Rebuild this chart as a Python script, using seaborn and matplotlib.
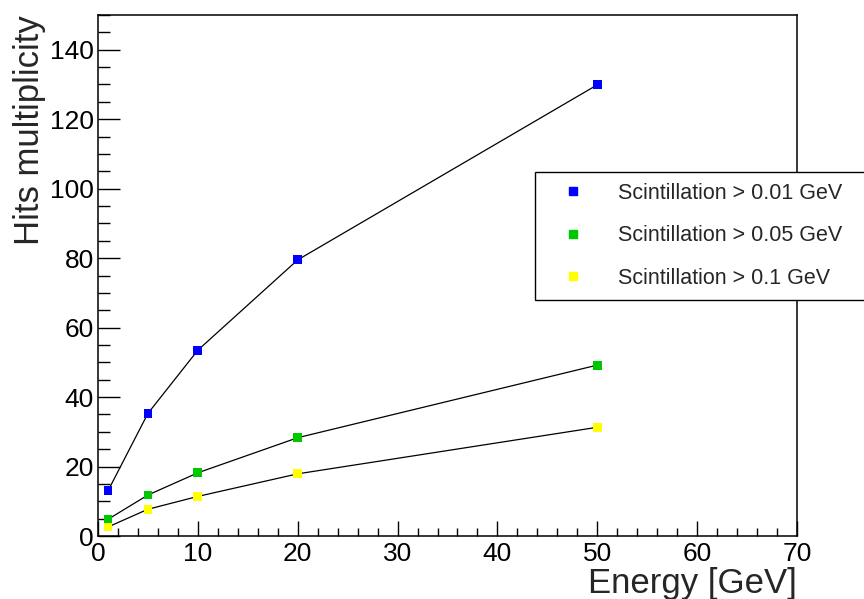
import matplotlib
matplotlib.use("Agg")
import matplotlib.pyplot as plt
from matplotlib.lines import Line2D
from matplotlib.ticker import MultipleLocator
import seaborn as sns
import pandas as pd

energy = [1, 5, 10, 20, 50]
hits_001 = [13.0, 35.3, 53.5, 79.5, 129.9]
hits_005 = [4.8, 11.8, 18.2, 28.3, 49.2]
hits_01 = [2.6, 7.7, 11.4, 17.9, 31.3]
series_labels = ["Scintillation > 0.01 GeV", "Scintillation > 0.05 GeV", "Scintillation > 0.1 GeV"]
series_colors = ["#0000ff", "#00c800", "#ffff00"]

rows = []
for lab, vals in zip(series_labels, [hits_001, hits_005, hits_01]):
    for e, v in zip(energy, vals):
        rows.append({"Energy": e, "Hits": v, "series": lab})
df = pd.DataFrame(rows)

sns.set_style("ticks")
plt.rcParams["font.family"] = ["Liberation Sans", "DejaVu Sans"]

fig = plt.figure(figsize=(8.64, 5.99), dpi=100)
ax = fig.add_axes([98/864, 1-536/599, (797-98)/864, (536-15)/599])

sns.lineplot(data=df, x="Energy", y="Hits", units="series", estimator=None,
             color="black", linewidth=0.9, ax=ax, legend=False, zorder=2)
sns.scatterplot(data=df, x="Energy", y="Hits", hue="series", hue_order=series_labels,
                palette=series_colors, marker="s", s=40, linewidth=0, ax=ax,
                legend=False, zorder=3)

ax.set_xlim(0, 70)
ax.set_ylim(0, 150)
ax.xaxis.set_major_locator(MultipleLocator(10))
ax.xaxis.set_minor_locator(MultipleLocator(2))
ax.yaxis.set_major_locator(MultipleLocator(20))
ax.yaxis.set_minor_locator(MultipleLocator(5))
ax.tick_params(axis="both", which="both", direction="in", colors="black",
               labelsize=19, width=1.0)
ax.tick_params(axis="y", which="major", length=15.5)
ax.tick_params(axis="y", which="minor", length=8.5)
ax.tick_params(axis="x", which="major", length=10.5)
ax.tick_params(axis="x", which="minor", length=5.8)
ax.tick_params(axis="x", pad=4)
ax.tick_params(axis="y", pad=3)
for sp in ax.spines.values():
    sp.set_visible(True)
    sp.set_color("black")
    sp.set_linewidth(1.1)

ax.set_xlabel("Energy [GeV]", fontsize=25, loc="right", labelpad=1)
ax.set_ylabel("Hits multiplicity", fontsize=25, loc="top", labelpad=3)

handles = [Line2D([], [], linestyle="none", marker="s", markersize=6,
                  markerfacecolor=c, markeredgecolor=c) for c in series_colors]
leg = fig.legend(handles, series_labels, loc="upper left",
                 bbox_to_anchor=(535/864, 1-297/599, 0.40, (297-172)/599),
                 mode="expand", fontsize=15.5, frameon=True, fancybox=False,
                 edgecolor="black", framealpha=1, borderpad=0.5,
                 handlelength=2.5, handletextpad=0.85, labelspacing=1.0,
                 borderaxespad=0)
leg.get_frame().set_linewidth(1.0)

fig.savefig("out.png", dpi=100)
